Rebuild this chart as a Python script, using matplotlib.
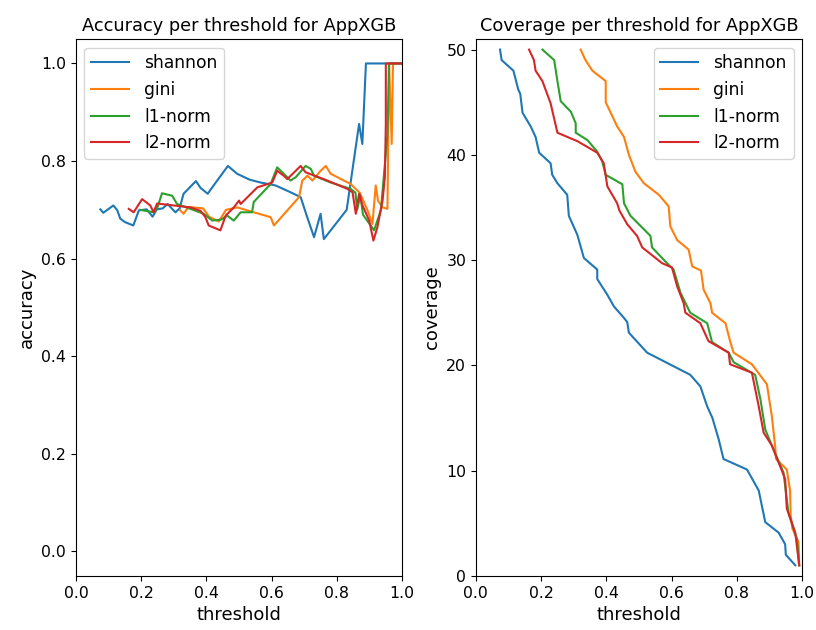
import matplotlib
matplotlib.use("Agg")
import matplotlib.pyplot as plt

MODEL = "AppXGB"
LABELS = ["shannon", "gini", "l1-norm", "l2-norm"]

# accuracy per threshold
acc_thr_shannon = [0.075, 0.084, 0.115, 0.127, 0.136, 0.150, 0.176, 0.193, 0.217, 0.235, 0.248,
                   0.266, 0.281, 0.305, 0.318, 0.330, 0.368, 0.382, 0.404, 0.433, 0.466, 0.494,
                   0.532, 0.566, 0.612, 0.658, 0.689, 0.709, 0.730, 0.750, 0.760, 0.830, 0.868,
                   0.878, 0.889, 1.0]
acc_shannon = [0.701, 0.694, 0.709, 0.699, 0.682, 0.675, 0.668, 0.699, 0.701, 0.686, 0.701,
               0.703, 0.712, 0.695, 0.703, 0.733, 0.759, 0.745, 0.733, 0.760, 0.790, 0.774,
               0.762, 0.756, 0.750, 0.736, 0.726, 0.685, 0.644, 0.692, 0.640, 0.700, 0.876,
               0.835, 1.0, 1.0]

acc_thr_gini = [0.320, 0.330, 0.345, 0.390, 0.408, 0.438, 0.460, 0.495, 0.545, 0.597, 0.607,
                0.643, 0.684, 0.694, 0.710, 0.725, 0.750, 0.766, 0.781, 0.842, 0.870, 0.894,
                0.909, 0.919, 0.926, 0.940, 0.955, 0.960, 0.968, 0.972, 1.0]
acc_gini = [0.699, 0.692, 0.706, 0.703, 0.686, 0.676, 0.700, 0.705, 0.695, 0.685, 0.668,
            0.695, 0.726, 0.760, 0.770, 0.760, 0.780, 0.790, 0.774, 0.753, 0.735, 0.699,
            0.671, 0.750, 0.719, 0.705, 0.702, 1.0, 0.835, 1.0, 1.0]

acc_thr_l1 = [0.197, 0.238, 0.250, 0.264, 0.295, 0.310, 0.392, 0.418, 0.445, 0.464, 0.484,
              0.505, 0.540, 0.545, 0.597, 0.617, 0.628, 0.658, 0.674, 0.704, 0.720, 0.730,
              0.781, 0.842, 0.857, 0.862, 0.872, 0.880, 0.914, 0.935, 0.955, 0.960, 1.0]
acc_l1 = [0.700, 0.695, 0.705, 0.734, 0.729, 0.712, 0.692, 0.678, 0.680, 0.688, 0.678,
          0.695, 0.695, 0.716, 0.753, 0.787, 0.780, 0.760, 0.767, 0.790, 0.784, 0.770,
          0.756, 0.743, 0.735, 0.700, 0.730, 0.690, 0.658, 0.700, 0.855, 1.0, 1.0]

acc_thr_l2 = [0.162, 0.177, 0.203, 0.228, 0.238, 0.249, 0.351, 0.382, 0.397, 0.407, 0.443,
              0.459, 0.484, 0.500, 0.505, 0.556, 0.602, 0.617, 0.637, 0.648, 0.689, 0.704,
              0.771, 0.832, 0.848, 0.858, 0.868, 0.878, 0.899, 0.912, 0.924, 0.940, 0.947,
              0.950, 0.950, 1.0]
acc_l2 = [0.702, 0.695, 0.722, 0.709, 0.695, 0.713, 0.705, 0.698, 0.685, 0.668, 0.658,
          0.688, 0.705, 0.719, 0.712, 0.746, 0.756, 0.780, 0.770, 0.763, 0.790, 0.777,
          0.760, 0.743, 0.736, 0.692, 0.733, 0.710, 0.678, 0.637, 0.664, 0.719, 0.767,
          0.876, 1.0, 1.0]

# coverage per threshold
cov_thr_shannon = [0.074, 0.079, 0.115, 0.130, 0.136, 0.143, 0.168, 0.183, 0.194, 0.229, 0.234,
                   0.250, 0.280, 0.285, 0.311, 0.331, 0.372, 0.372, 0.403, 0.423, 0.454, 0.464,
                   0.469, 0.525, 0.657, 0.688, 0.709, 0.725, 0.744, 0.759, 0.831, 0.867, 0.887,
                   0.928, 0.948, 0.950, 0.979]
cov_shannon = [50, 49, 48, 46.2, 45.8, 44, 42.7, 41.7, 40.2, 39.2, 38.1,
               37.3, 36.2, 34.2, 32.4, 30.2, 29.1, 28.2, 26.7, 25.6, 24.5, 24.1,
               23.1, 21.2, 19.1, 18, 16.1, 15, 13, 11.1, 10.1, 8.1, 5.1,
               4.1, 3, 2, 1]

cov_thr_gini = [0.321, 0.336, 0.357, 0.398, 0.398, 0.433, 0.454, 0.469, 0.489, 0.515, 0.561,
                0.591, 0.596, 0.617, 0.652, 0.663, 0.690, 0.698, 0.719, 0.724, 0.765, 0.780,
                0.790, 0.846, 0.892, 0.907, 0.917, 0.920, 0.953, 0.963, 0.965, 0.970, 0.989,
                0.991]
cov_gini = [50, 49, 48, 47, 45, 42.7, 41.7, 40, 38.4, 37.3, 36.2,
            35.1, 33.2, 31.9, 31, 29.4, 29, 27.2, 25.9, 25, 24, 22.2,
            21.2, 20.1, 18.2, 15.2, 12.4, 11.1, 10.1, 8.1, 5.7, 4.5, 3.2,
            1]

cov_thr_l1 = [0.204, 0.240, 0.250, 0.260, 0.291, 0.306, 0.306, 0.342, 0.372, 0.387, 0.398,
              0.449, 0.454, 0.474, 0.535, 0.540, 0.586, 0.606, 0.627, 0.657, 0.709, 0.724,
              0.775, 0.790, 0.856, 0.872, 0.887, 0.907, 0.943, 0.958, 0.984, 0.991]
cov_l1 = [50, 49, 47, 45.1, 44.1, 43, 42.1, 41.4, 40.3, 39.4, 38.1,
          37.2, 35.4, 34.2, 32.3, 31.2, 29.7, 29.1, 26.9, 25, 24, 22.2,
          21.2, 20.3, 19.1, 16.8, 13.9, 12.4, 9.8, 6, 3.5, 1]

cov_thr_l2 = [0.163, 0.178, 0.183, 0.204, 0.229, 0.250, 0.311, 0.372, 0.392, 0.403, 0.433,
              0.440, 0.464, 0.494, 0.510, 0.571, 0.601, 0.617, 0.637, 0.642, 0.688, 0.713,
              0.775, 0.779, 0.846, 0.867, 0.882, 0.907, 0.948, 0.953, 0.979, 0.991]
cov_l2 = [50, 49, 48, 47, 44.9, 42.1, 41.3, 40.2, 39.2, 37, 35.4,
          34.7, 33.4, 32.3, 31.2, 29.7, 29.3, 27.5, 25.9, 25, 24, 22.3,
          21.2, 20.1, 19.3, 16.1, 13.6, 12.4, 9.2, 6.4, 4.1, 1]

acc_series = [(acc_thr_shannon, acc_shannon), (acc_thr_gini, acc_gini),
              (acc_thr_l1, acc_l1), (acc_thr_l2, acc_l2)]
cov_series = [(cov_thr_shannon, cov_shannon), (cov_thr_gini, cov_gini),
              (cov_thr_l1, cov_l1), (cov_thr_l2, cov_l2)]

fig, (ax1, ax2) = plt.subplots(1, 2, figsize=(8.16, 6.3), dpi=100)
fig.subplots_adjust(left=0.093, right=0.983, bottom=0.086, top=0.938, wspace=0.226)

legend_kw = dict(fontsize=12.3, handlelength=2.2, handletextpad=0.9)

for (x, y), label in zip(acc_series, LABELS):
    ax1.plot(x, y, label=label)
ax1.set_xlim(0, 1)
ax1.set_ylim(-0.05, 1.05)
ax1.set_title(f"Accuracy per threshold for {MODEL}", fontsize=12.8)
ax1.set_xlabel("threshold", fontsize=13)
ax1.set_ylabel("accuracy", fontsize=13)
ax1.legend(loc="upper left", **legend_kw)

for (x, y), label in zip(cov_series, LABELS):
    ax2.plot(x, y, label=label)
ax2.set_xlim(0, 1)
ax2.set_ylim(0, 51)
ax2.set_title(f"Coverage per threshold for {MODEL}", fontsize=12.8)
ax2.set_xlabel("threshold", fontsize=13)
ax2.set_ylabel("coverage", fontsize=13)
ax2.legend(loc="upper right", **legend_kw)

for ax in (ax1, ax2):
    ax.tick_params(labelsize=11.3)

fig.savefig("out.png", dpi=100)
